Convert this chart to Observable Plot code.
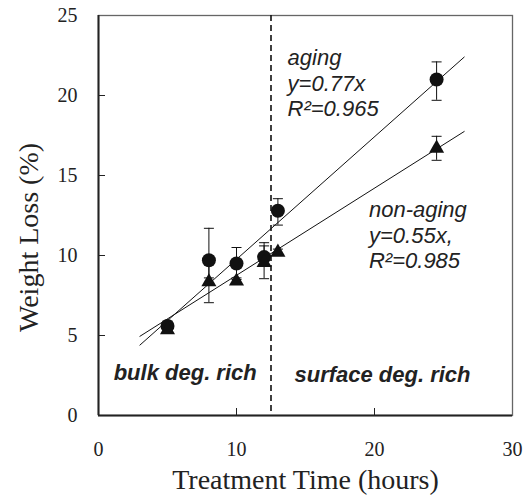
<!DOCTYPE html>
<html>
<head>
<meta charset="utf-8">
<script src="https://cdn.jsdelivr.net/npm/d3@7"></script>
<script src="https://cdn.jsdelivr.net/npm/@observablehq/plot@0.6"></script>
<style>
  html, body { margin: 0; padding: 0; background: #fff; }
  svg { display: block; }
</style>
</head>
<body>
<div id="chart"></div>
<script>
// ---- data ----
const times = [5, 8, 10, 12, 13, 24.5];
const agingMean = [5.6, 9.7, 9.5, 9.9, 12.8, 21.0];
const agingLow = [5.3, 8.6, 8.5, 9.4, 11.9, 19.7];
const agingHigh = [5.9, 11.7, 10.5, 10.8, 13.55, 22.1];
const nonAgingMean = [5.35, 8.35, 8.4, 9.56, 10.2, 16.7];
const nonAgingLow = [5.2, 7.05, 8.3, 8.55, 10.0, 15.95];
const nonAgingHigh = [5.5, 9.8, 8.6, 10.6, 10.4, 17.45];
const fitX = [3, 26.5];
const agingFitY = [4.4, 22.4];
const nonAgingFitY = [4.95, 17.75];
const boundaryTime = [12.5];
const xTicks = [0, 10, 20, 30];
const yTicks = [0, 5, 10, 15, 20, 25];
const xLabel = "Treatment Time (hours)";
const yLabel = "Weight Loss (%)";
const agingNote = "aging\ny=0.77x\nR\u00B2=0.965";
const nonAgingNote = "non-aging\ny=0.55x,\nR\u00B2=0.985";
const bulkNote = "bulk deg. rich";
const surfaceNote = "surface deg. rich";

const aging = times.map((t, i) => ({t, v: agingMean[i], lo: agingLow[i], hi: agingHigh[i]}));
const nonAging = times.map((t, i) => ({t, v: nonAgingMean[i], lo: nonAgingLow[i], hi: nonAgingHigh[i]}));
const agingFit = fitX.map((t, i) => ({t, v: agingFitY[i]}));
const nonAgingFit = fitX.map((t, i) => ({t, v: nonAgingFitY[i]}));

const cap = {draw(ctx) { ctx.moveTo(-5, 0); ctx.lineTo(5, 0); }};
const serif = "'Liberation Serif', 'Times New Roman', serif";
const sans = "'Liberation Sans', Arial, sans-serif";
const ink = "#111";

function errMarks(rows) {
  return [
    Plot.ruleX(rows, {x: "t", y1: "lo", y2: "hi", stroke: ink, strokeWidth: 1}),
    Plot.dot(rows, {x: "t", y: "lo", symbol: cap, r: 5, stroke: ink, fill: "none", strokeWidth: 1}),
    Plot.dot(rows, {x: "t", y: "hi", symbol: cap, r: 5, stroke: ink, fill: "none", strokeWidth: 1})
  ];
}

const chart = Plot.plot({
  width: 523,
  height: 496,
  marginLeft: 98,
  marginRight: 11,
  marginTop: 15,
  marginBottom: 81,
  x: {domain: [0, 30]},
  y: {domain: [0, 25]},
  style: {background: "#fff", color: "#222"},
  marks: [
    Plot.frame({stroke: "#666", strokeWidth: 1.3}),
    Plot.axisX({ticks: xTicks, tickSize: 0, tickPadding: 26, fontSize: 20, fontFamily: serif, label: null, fill: "#222"}),
    Plot.axisX({ticks: [10, 20], tickSize: -7, fill: "none", label: null, stroke: "#222"}),
    Plot.axisY({ticks: yTicks, tickSize: 0, tickPadding: 21, fontSize: 20, fontFamily: serif, label: null, fill: "#222"}),
    Plot.axisY({ticks: [5, 10, 15, 20], tickSize: -7, fill: "none", label: null, stroke: "#222"}),
    Plot.ruleX(boundaryTime, {stroke: ink, strokeWidth: 1.6, strokeDasharray: "6,4"}),
    Plot.line(agingFit, {x: "t", y: "v", stroke: ink, strokeWidth: 1}),
    Plot.line(nonAgingFit, {x: "t", y: "v", stroke: ink, strokeWidth: 1}),
    ...errMarks(aging),
    ...errMarks(nonAging),
    Plot.dot(aging, {x: "t", y: "v", r: 7, fill: ink, stroke: "none"}),
    Plot.dot(nonAging, {x: "t", y: "v", r: 5.6, symbol: "triangle", fill: ink, stroke: "none"}),
    Plot.ruleX([0], {stroke: "#222", strokeWidth: 2}),
    Plot.ruleY([0], {stroke: "#222", strokeWidth: 2}),
    Plot.text([agingNote], {text: d => d, x: 13.7, y: 23.0, textAnchor: "start", lineAnchor: "top", lineHeight: 1.15, fontSize: 22, fontStyle: "italic", fontFamily: sans, fill: "#222"}),
    Plot.text([nonAgingNote], {text: d => d, x: 19.6, y: 13.5, textAnchor: "start", lineAnchor: "top", lineHeight: 1.15, fontSize: 22, fontStyle: "italic", fontFamily: sans, fill: "#222"}),
    Plot.text([bulkNote], {text: d => d, x: 1.1, y: 2.69, textAnchor: "start", fontSize: 22, fontStyle: "italic", fontWeight: "bold", fontFamily: sans, fill: "#222"}),
    Plot.text([surfaceNote], {text: d => d, x: 14.2, y: 2.56, textAnchor: "start", fontSize: 22, fontStyle: "italic", fontWeight: "bold", fontFamily: sans, fill: "#222"}),
    Plot.text([xLabel], {text: d => d, frameAnchor: "bottom", lineAnchor: "middle", textAnchor: "middle", dy: 65, fontSize: 28, fontFamily: serif, fill: "#222"}),
    Plot.text([yLabel], {text: d => d, frameAnchor: "left", rotate: -90, textAnchor: "middle", lineAnchor: "middle", dx: -69.5, dy: 22, fontSize: 28, fontFamily: serif, fill: "#222"})
  ]
});
document.getElementById("chart").appendChild(chart);
</script>
</body>
</html>
